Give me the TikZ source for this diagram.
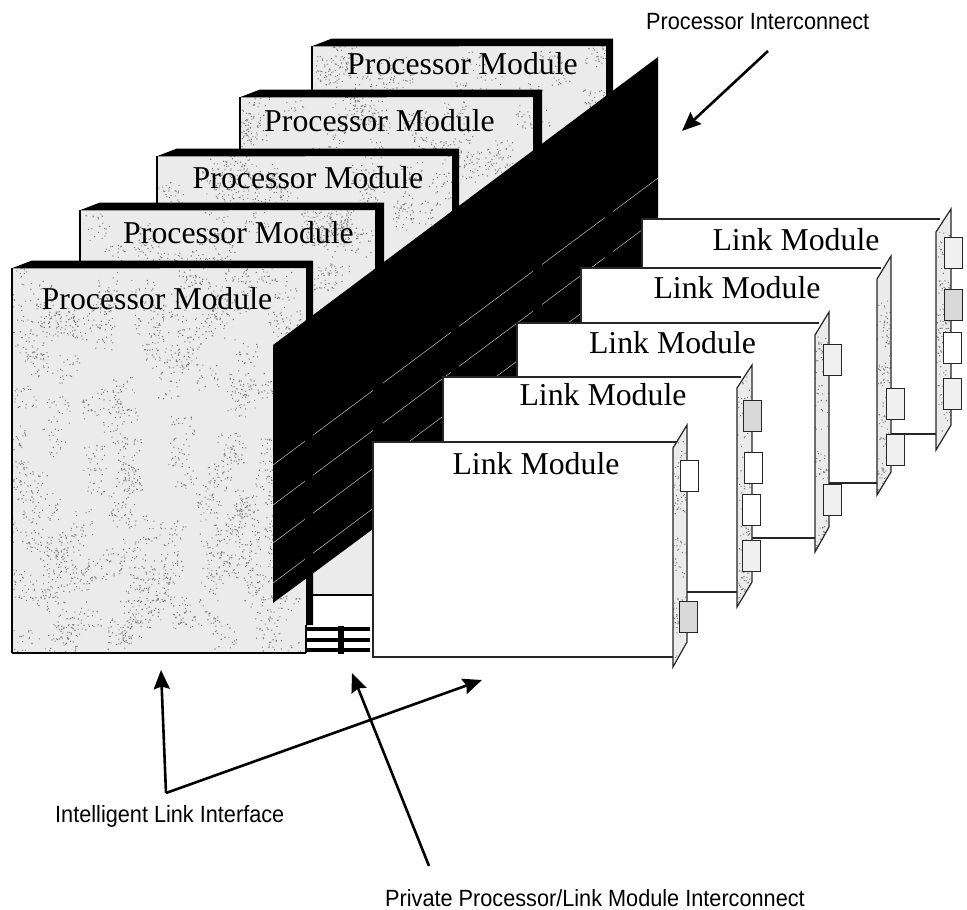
\documentclass[tikz,border=0pt]{standalone}
\usepackage{fontspec}
\usetikzlibrary{arrows.meta}
\setmainfont{Liberation Serif}
\newfontfamily\lab[FakeStretch=0.923]{Liberation Sans}
\definecolor{base}{gray}{0.92}
\definecolor{mote}{gray}{0.50}
\tikzset{
  modtext/.style={anchor=base,inner sep=0pt,font=\fontsize{31.8}{34}\selectfont,text=black},
  lab/.style={anchor=base west,inner sep=0pt,font=\fontsize{23.5}{26}\selectfont\lab,text=black},
  edge/.style={draw=black!85,line width=1.2pt},
  chip/.style={draw=black!85,line width=1.4pt,minimum width=18pt,minimum height=31pt,inner sep=0pt,anchor=north west},
  chipw/.style={chip,fill=white},
  chipl/.style={chip,fill=gray!12},
  chipd/.style={chip,fill=gray!30},
  pointer/.style={line width=2.6pt,black,-{Stealth[length=19pt,width=16pt,inset=2.5pt]}},
  wire/.style={draw=gray!65,line width=0.6pt},
  bus/.style={black,line width=4.4pt},
}
% clusters of dots in a box: x1,y1,x2,y2,clusters,dots
\newcommand\mottle[6]{%
  \foreach \c in {1,...,#5}{%
    \pgfmathsetmacro\cx{#1+rnd*(#3-#1)}%
    \pgfmathsetmacro\cy{#2+rnd*(#4-#2)}%
    \fill[mote] \foreach \d in {1,...,#6}{ ({\cx+rand*12},{\cy+rand*14}) rectangle ++(1.1,1.1) };%
  }%
}
% left, inner top, inner right, outer right, inner bottom, mottled-to y, clusters
\newcommand\procmod[7]{%
  \fill[base] (#1,#2) rectangle (#3,#5);
  \begin{scope}
    \clip (#1,#2) rectangle (#3,#5);
    \mottle{#1}{#2}{#3}{#6}{#7}{22}
  \end{scope}
  \draw[black,line width=1.5pt] (#1,#5) -- (#1,#2);
  \draw[black,line width=1.5pt] (#1,#5) -- (#3,#5);
  \fill[black] (#1-0.8,#2+0.5) -- (#1+20,#2-7.5) -- (#4,#2-7.5) -- (#4,#5-28) -- (#3,#5-28) -- (#3,#2) -- cycle;
  \draw[black,line width=1.2pt] (#3,#5-28) -- (#3,#5);
}
% left, top, panel x, panel top-left y, apex x, apex y, bottom right y, tip y
\newcommand\linkmod[8]{%
  \fill[white] (#1,#2) rectangle (#3,#2+215);
  \draw[edge] (#3+4,#2) -- (#1,#2) -- (#1,#2+215) -- (#3,#2+215);
  \fill[base] (#3,#4) -- (#5,#6) -- (#5,#7) -- (#3,#8) -- cycle;
  \begin{scope}
    \clip (#3,#4) -- (#5,#6) -- (#5,#7) -- (#3,#8) -- cycle;
    \mottle{#3}{#4}{#5}{#8}{14}{16}
  \end{scope}
  \draw[edge] (#3,#4) -- (#5,#6) -- (#5,#7) -- (#3,#8) -- cycle;
}
\begin{document}
\begin{tikzpicture}[x=1pt,y=-1pt]
\useasboundingbox (0,0) rectangle (967,910);
\pgfmathsetseed{4242}
% processor modules
\procmod{312}{46}{606}{613}{360}{130}{30}
\procmod{240}{97}{533}{542}{400}{185}{32}
\procmod{157}{156}{452}{459}{500}{235}{32}
\procmod{80}{210}{375}{384}{595}{300}{34}
\procmod{12}{268}{306}{313}{653}{653}{150}
\node[modtext] (pm5) at (462.5,74) {Processor Module};
\node[modtext] (pm4) at (379.5,131) {Processor Module};
\node[modtext] (pm3) at (308,188) {Processor Module};
\node[modtext] (pm2) at (238.5,243) {Processor Module};
\node[modtext] (pm1) at (157,309) {Processor Module};
% processor interconnect plane
\fill[black] (273,345) -- (658,57) -- (658,318) -- (273,603) -- cycle;
\begin{scope}
  \clip (273,345) -- (658,57) -- (658,318) -- (273,603) -- cycle;
  \draw[wire] (273,465) -- (658,178);
  \draw[wire] (273,505) -- (658,218);
  \draw[wire] (273,543) -- (658,256);
  \draw[wire] (273,583) -- (658,296);
  \fill[black] (305,60) rectangle (313,640);
  \fill[black] (373,60) rectangle (383,640);
  \fill[black] (451,60) rectangle (459,640);
  \fill[black] (533,60) rectangle (542,640);
  \fill[black] (605,60) rectangle (613,640);
\end{scope}
\fill[black] (305.5,560) rectangle (313,625);
% private interconnect
\coordinate (busL1) at (306,629); \coordinate (busR1) at (370,629);
\coordinate (busL2) at (306,640); \coordinate (busR2) at (370,640);
\coordinate (busL3) at (306,650); \coordinate (busR3) at (370,650);
\coordinate (busT) at (341,626); \coordinate (busB) at (341,654);
\draw[bus] (busL1) -- (busR1);
\draw[bus] (busL2) -- (busR2);
\draw[bus] (busL3) -- (busR3);
\draw[black,line width=6pt] (busT) -- (busB);
% link modules
\linkmod{642}{219}{936}{232}{951}{209}{425}{450}
\node[modtext] (lm1) at (796,250) {Link Module};
\node[chipl] (c11) at (944,237) {};
\node[chipd] (c12) at (944,289) {};
\node[chipw] (c13) at (942.5,332) {};
\node[chipl] (c14) at (943,378) {};
\linkmod{581}{268}{877}{279}{891}{256}{472}{495}
\node[modtext] (lm2) at (737,298) {Link Module};
\node[chipl] (c21) at (886,388) {};
\node[chipl] (c22) at (886,434) {};
\linkmod{517}{323}{815}{335}{829}{312}{527}{552}
\node[modtext] (lm3) at (672.5,353) {Link Module};
\node[chipl] (c31) at (823,343.5) {};
\node[chipl] (c32) at (822.5,483.5) {};
\linkmod{443}{377}{737}{388}{752}{365}{582}{607}
\node[modtext] (lm4) at (603,405) {Link Module};
\node[chipd] (c41) at (743,400) {};
\node[chipw] (c42) at (743.5,452) {};
\node[chipw] (c43) at (742,494) {};
\node[chipl] (c44) at (742,540) {};
\linkmod{373}{442}{673}{448}{687}{425}{642}{667}
\node[modtext] (lm5) at (536,474) {Link Module};
\node[chipw] (c51) at (680,460) {};
\node[chipd] (c52) at (679,601) {};
% labels
\node[lab] (li) at (646,30) {Processor Interconnect};
\node[lab] (ll) at (55,822.5) {Intelligent Link Interface};
\node[lab] (lp) at (385,906.5) {Private Processor/Link Module Interconnect};
% pointers
\coordinate (a0) at (166,793);
\coordinate (a1) at (161,670);
\coordinate (a2) at (482,680);
\coordinate (a3s) at (429,866);
\coordinate (a3) at (352,673);
\coordinate (a4s) at (768,51);
\coordinate (a4) at (682,131);
\draw[pointer] (a0) -- (a1);
\draw[pointer] (a0) -- (a2);
\draw[pointer] (a3s) -- (a3);
\draw[pointer] (a4s) -- (a4);
\end{tikzpicture}
\end{document}
